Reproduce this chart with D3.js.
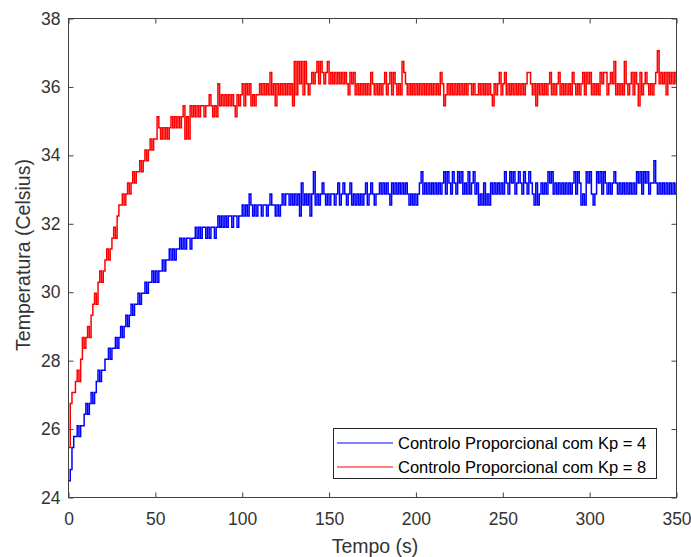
<!DOCTYPE html>
<html>
<head>
<meta charset="utf-8">
<script src="https://cdn.jsdelivr.net/npm/d3@7"></script>
<style>
  body { margin: 0; background: #fff; }
  svg { display: block; font-family: "Liberation Sans", Arial, Helvetica, sans-serif; }
</style>
</head>
<body>
<svg id="chart" width="691" height="557"></svg>
<script>
// Temperature readings (°C), one sample per second, LM35 sensor read by a 10-bit ADC
const samplePeriodS = 1;

const xTicks = [0, 50, 100, 150, 200, 250, 300, 350];
const yTicks = [24, 26, 28, 30, 32, 34, 36, 38];

const seriesLabels = [
  "Controlo Proporcional com Kp = 4",
  "Controlo Proporcional com Kp = 8"
];
const seriesColors = ["#0000ff", "#ff0000"];

// Kp = 4
const tempKp4 = [
  24.49,24.82,25.46,25.78,25.78,26.10,25.78,26.10,26.10,26.43,
  26.75,26.43,26.75,27.07,26.75,27.07,27.39,27.72,27.39,27.72,
  27.72,28.04,28.04,28.36,28.04,28.36,28.36,28.68,28.36,28.68,
  29.00,28.68,29.00,29.33,29.00,29.33,29.65,29.33,29.65,29.65,
  29.97,29.65,29.97,29.97,30.29,29.97,30.29,30.29,30.62,30.29,
  30.62,30.29,30.62,30.62,30.94,30.62,30.94,30.94,31.26,30.94,
  31.26,30.94,31.26,31.26,31.58,31.26,31.58,31.26,31.58,31.58,
  31.26,31.58,31.58,31.90,31.58,31.90,31.58,31.90,31.90,31.58,
  31.90,31.58,31.90,31.90,31.58,31.90,32.23,31.90,32.23,31.90,
  32.23,31.90,32.23,32.23,31.90,32.23,32.23,31.90,32.23,32.23,
  32.55,32.23,32.55,32.23,32.87,32.55,32.23,32.55,32.23,32.55,
  32.55,32.23,32.55,32.55,32.23,32.55,32.87,32.55,32.55,32.23,
  32.55,32.23,32.55,32.87,32.55,32.87,32.87,32.55,32.87,32.55,
  32.87,32.55,32.87,32.23,33.19,32.55,32.87,32.55,32.87,32.23,
  32.87,33.52,32.55,32.87,32.55,32.87,33.19,32.87,32.55,32.87,
  32.55,32.87,32.87,32.55,32.87,33.19,32.55,32.87,33.19,32.87,
  32.55,32.87,33.19,32.55,32.87,32.55,32.87,32.55,32.87,32.55,
  32.87,33.19,32.55,32.87,33.19,32.87,32.55,32.87,32.87,33.19,
  32.87,33.19,32.87,33.19,32.87,32.55,33.19,32.87,33.19,32.87,
  33.19,32.87,33.19,32.87,33.19,32.87,32.55,32.87,32.55,32.87,
  32.55,32.87,33.19,33.52,32.87,33.19,32.87,33.19,32.87,33.19,
  32.87,33.19,32.87,33.19,32.87,33.19,33.52,32.87,33.52,33.19,
  32.87,33.52,33.19,32.87,33.52,33.19,33.52,32.87,33.19,32.87,
  33.52,32.87,33.19,33.52,32.87,33.19,32.55,32.87,32.55,33.19,
  32.55,32.87,32.55,33.19,32.87,33.19,32.87,33.19,32.87,33.19,
  32.87,33.52,33.19,32.87,33.52,33.19,33.52,32.87,33.19,33.52,
  33.19,32.87,33.52,33.19,32.87,33.52,33.19,32.87,32.55,33.19,
  32.55,32.87,33.19,32.87,33.19,32.87,33.52,33.19,33.52,32.87,
  33.19,32.87,33.19,32.87,33.19,32.87,33.19,32.87,33.19,32.87,
  33.19,33.52,32.87,33.52,33.19,32.55,32.87,32.55,33.52,33.19,
  33.52,32.87,32.55,32.87,33.52,33.19,33.52,32.87,33.52,33.19,
  32.87,33.19,32.87,33.19,33.52,33.19,32.87,33.19,32.87,33.19,
  32.87,33.19,32.87,33.19,32.87,33.19,32.87,33.52,33.19,33.52,
  32.87,33.52,33.19,33.52,32.87,33.19,33.19,33.84,33.19,32.87,
  33.19,32.87,33.19,32.87,33.19,32.87,33.19,32.87,33.19,32.87,
  33.19
];

// Kp = 8
const tempKp8 = [
  25.46,26.75,27.07,27.07,27.39,27.72,27.39,28.04,28.68,28.36,
  28.68,29.00,28.68,29.33,29.65,29.97,29.65,30.29,30.62,30.29,
  30.62,30.94,31.26,30.94,31.26,31.58,31.90,31.58,32.23,32.55,
  32.55,32.87,32.55,32.87,33.19,32.87,33.19,33.52,33.19,33.52,
  33.52,33.84,33.52,33.84,34.16,33.84,34.16,34.48,34.16,34.48,
  34.48,35.13,34.81,34.48,34.81,34.48,34.81,34.48,34.81,35.13,
  34.81,35.13,34.81,35.13,34.81,35.13,35.45,34.48,35.13,34.48,
  35.45,35.13,35.45,35.13,35.45,35.13,35.45,35.45,35.13,35.45,
  35.45,35.77,35.45,35.13,35.45,35.13,36.09,35.45,35.77,35.45,
  35.77,35.45,35.77,35.45,35.77,35.45,35.13,35.77,35.45,35.77,
  36.09,35.45,36.09,35.77,36.09,35.45,35.77,35.45,35.77,35.77,
  36.09,35.77,36.09,35.77,36.09,35.77,36.42,35.77,36.09,35.45,
  36.09,35.77,36.09,35.77,36.09,35.77,36.09,35.77,36.09,35.45,
  36.74,35.77,36.74,36.09,36.74,35.77,36.74,36.09,35.77,36.09,
  36.42,36.09,36.42,36.74,36.09,36.74,36.42,36.09,36.42,36.74,
  36.09,36.42,36.09,36.42,36.09,36.42,36.09,36.42,36.09,36.42,
  36.09,35.77,36.42,36.09,36.42,35.77,36.09,35.77,36.09,35.77,
  36.09,35.77,36.09,35.77,36.42,36.09,35.77,36.09,35.77,36.09,
  35.77,36.09,36.42,35.77,36.09,36.42,35.77,36.42,36.09,35.77,
  36.09,35.77,36.74,36.42,36.09,35.77,36.09,35.77,36.09,35.77,
  36.09,35.77,36.09,35.77,36.09,35.77,36.09,35.77,36.09,35.77,
  36.09,35.77,36.09,35.77,36.42,36.09,35.45,35.77,36.09,35.77,
  36.09,35.77,36.09,35.77,36.09,35.77,36.09,35.77,36.09,35.77,
  36.09,36.09,35.77,36.09,35.77,35.77,36.09,35.77,36.09,35.77,
  36.09,35.77,36.09,35.77,35.45,36.09,35.77,36.09,36.42,35.77,
  36.09,36.42,35.77,36.09,35.77,36.09,35.77,36.09,35.77,36.09,
  35.77,36.09,35.77,36.09,36.42,36.42,36.09,35.77,36.09,35.45,
  36.09,35.77,36.09,35.77,36.09,35.77,36.09,36.42,35.77,36.09,
  35.77,36.09,36.42,35.77,36.09,35.77,36.09,35.77,36.09,35.77,
  36.42,36.09,35.77,36.09,35.77,36.09,36.42,35.77,36.42,36.09,
  36.42,35.77,36.09,35.77,36.09,35.77,36.42,36.09,36.42,36.42,
  35.77,36.09,36.42,36.09,36.74,35.77,36.09,35.77,36.09,35.77,
  36.74,36.09,35.77,36.09,36.42,35.77,36.42,36.09,35.45,36.42,
  35.77,36.09,36.42,36.09,35.77,36.09,35.77,36.09,36.42,37.06,
  36.09,36.42,36.09,36.42,35.77,36.42,36.09,36.42,36.09,36.42,
  36.09
];

const svg = d3.select("#chart");
const W = 691, H = 557;
const plot = { left: 68.5, right: 676.5, top: 18.5, bottom: 497.5 };
const axisColor = "#404040";
const textColor = "#333333";

const x = d3.scaleLinear().domain([0, 350]).range([plot.left, plot.right]);
const y = d3.scaleLinear().domain([24, 38]).range([plot.bottom, plot.top]);

svg.append("rect").attr("width", W).attr("height", H).attr("fill", "#fff");

// Clip the traces to the axes box
svg.append("clipPath").attr("id", "plot-clip")
  .append("rect")
  .attr("x", plot.left).attr("y", plot.top)
  .attr("width", plot.right - plot.left).attr("height", plot.bottom - plot.top);

const series = [tempKp4, tempKp8].map((vals, i) => ({
  label: seriesLabels[i],
  color: seriesColors[i],
  points: vals.map((v, k) => ({ t: k * samplePeriodS, v }))
}));

// Readings are held between samples (zero-order hold)
const line = d3.line().x(d => x(d.t)).y(d => y(d.v)).curve(d3.curveStepAfter);

svg.append("g").attr("clip-path", "url(#plot-clip)")
  .selectAll("path").data(series).join("path")
  .attr("d", d => line(d.points))
  .attr("fill", "none")
  .attr("stroke", d => d.color)
  .attr("stroke-width", 1.5);

// Axes: ticks point inward on all four sides
const tickLen = 5;
function styleAxis(g) {
  g.selectAll(".domain").remove();
  g.selectAll(".tick line").attr("stroke", axisColor).attr("stroke-width", 1);
  g.selectAll(".tick text").attr("fill", textColor).attr("font-size", 17.5)
    .attr("font-family", '"Liberation Sans", Arial, Helvetica, sans-serif');
}

svg.append("g").attr("transform", `translate(0,${plot.bottom})`)
  .call(d3.axisBottom(x).tickValues(xTicks).tickSizeInner(-tickLen).tickSizeOuter(0).tickPadding(15))
  .call(styleAxis);
svg.append("g").attr("transform", `translate(0,${plot.top})`)
  .call(d3.axisTop(x).tickValues(xTicks).tickSizeInner(-tickLen).tickSizeOuter(0).tickFormat(""))
  .call(styleAxis);
svg.append("g").attr("transform", `translate(${plot.left},0)`)
  .call(d3.axisLeft(y).tickValues(yTicks).tickSizeInner(-tickLen).tickSizeOuter(0).tickPadding(8))
  .call(styleAxis);
svg.append("g").attr("transform", `translate(${plot.right},0)`)
  .call(d3.axisRight(y).tickValues(yTicks).tickSizeInner(-tickLen).tickSizeOuter(0).tickFormat(""))
  .call(styleAxis);

// Axes box
svg.append("rect")
  .attr("x", plot.left).attr("y", plot.top)
  .attr("width", plot.right - plot.left).attr("height", plot.bottom - plot.top)
  .attr("fill", "none").attr("stroke", axisColor).attr("stroke-width", 1);

// Axis titles
svg.append("text")
  .attr("x", 375).attr("y", 553)
  .attr("text-anchor", "middle")
  .attr("font-size", 19.5).attr("fill", textColor)
  .text("Tempo (s)");

svg.append("text")
  .attr("transform", "translate(30,255) rotate(-90)")
  .attr("text-anchor", "middle")
  .attr("font-size", 19.5).attr("fill", textColor)
  .text("Temperatura (Celsius)");

// Legend
const legend = svg.append("g");
legend.append("rect")
  .attr("x", 333.5).attr("y", 428.5).attr("width", 323).attr("height", 50)
  .attr("fill", "#fff").attr("stroke", "#262626").attr("stroke-width", 1);

const rows = legend.selectAll("g.item").data(series).join("g")
  .attr("class", "item")
  .attr("transform", (d, i) => `translate(0,${443 + i * 24})`);
rows.append("line")
  .attr("x1", 337).attr("x2", 393).attr("y1", 0).attr("y2", 0)
  .attr("stroke", d => d.color).attr("stroke-width", 1);
rows.append("text")
  .attr("x", 398).attr("y", 0).attr("dy", "0.35em")
  .attr("font-size", 16.5).attr("fill", "#000")
  .text(d => d.label);
</script>
</body>
</html>
